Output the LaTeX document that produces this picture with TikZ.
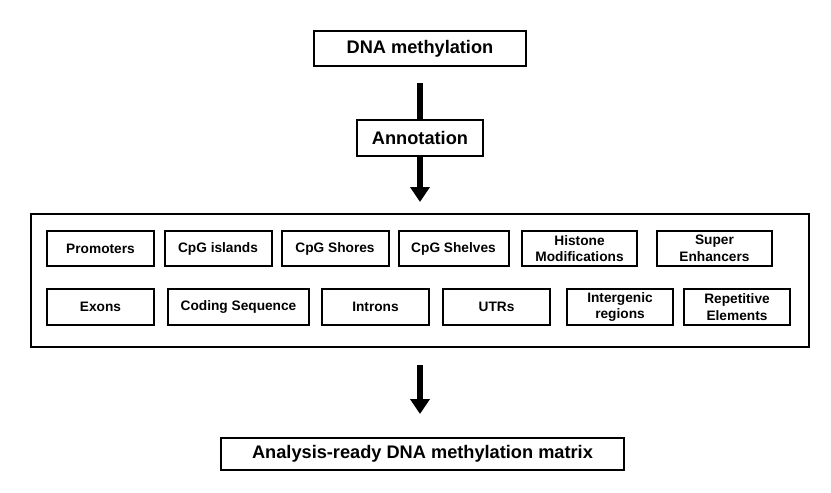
\documentclass[tikz,border=0pt]{standalone}
\usepackage{fontspec}
\setmainfont{Liberation Sans}
\usetikzlibrary{arrows.meta}
\begin{document}
\begin{tikzpicture}[x=1pt,y=-1pt,
  box/.style={draw=black,line width=2pt,fill=white,inner sep=0pt,align=center,
    font=\bfseries\fontsize{13.7}{16.5}\selectfont},
  bigbox/.style={draw=black,line width=2pt,inner sep=0pt,align=center,
    font=\bfseries\fontsize{18.2}{21}\selectfont},
  shaft/.style={line width=5.5pt,draw=black},
  arr/.style={line width=5.5pt,draw=black,-{Triangle[length=15pt,width=19pt]}}]
\useasboundingbox (0,0) rectangle (831,493);
% top flow
\node[bigbox,minimum width=212pt,minimum height=35pt] (dna) at (420,48.5) {DNA methylation};
\node[bigbox,minimum width=126pt,minimum height=36pt] (ann) at (420,138) {Annotation};
\node[draw=black,line width=2pt,minimum width=778pt,minimum height=133pt,inner sep=0pt] (cont) at (420,280.5) {};
\node[bigbox,minimum width=403pt,minimum height=32pt] (res) at (422.5,454) {Analysis-ready DNA methylation matrix};
% row 1
\node[box,minimum width=107pt,minimum height=35pt] (prom) at (100.5,248.5) {Promoters};
\node[box,minimum width=107pt,minimum height=35pt] (isl) at (218,248.5) {CpG islands};
\node[box,minimum width=107pt,minimum height=35pt] (shore) at (335,248.5) {CpG Shores};
\node[box,minimum width=110pt,minimum height=35pt] (shelf) at (453.5,248.5) {CpG Shelves};
\node[box,minimum width=115pt,minimum height=35pt] (hist) at (579.5,248.5) {Histone\\Modifications};
\node[box,minimum width=115pt,minimum height=35pt] (super) at (714.5,248.5) {Super\\Enhancers};
% row 2
\node[box,minimum width=107pt,minimum height=36pt] (exon) at (100.5,307) {Exons};
\node[box,minimum width=141pt,minimum height=36pt] (cds) at (238.5,307) {Coding Sequence};
\node[box,minimum width=107pt,minimum height=36pt] (intr) at (375.5,307) {Introns};
\node[box,minimum width=107pt,minimum height=36pt] (utr) at (496.5,307) {UTRs};
\node[box,minimum width=106pt,minimum height=36pt] (inter) at (620,307) {Intergenic\\regions};
\node[box,minimum width=106pt,minimum height=36pt] (rep) at (737,307) {Repetitive\\Elements};
% arrows
\draw[shaft] ([yshift=-16pt]dna.south) -- (ann.north);
\draw[arr] (ann.south) -- ([yshift=11pt]cont.north);
\draw[arr] ([yshift=-17pt]cont.south) -- ([yshift=23pt]res.north -| cont.south);
\end{tikzpicture}
\end{document}
